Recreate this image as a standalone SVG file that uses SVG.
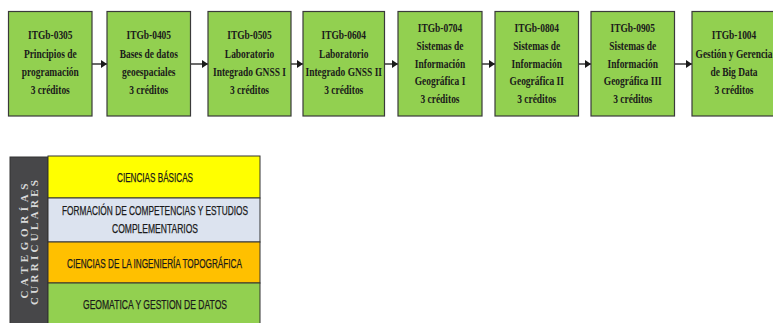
<svg xmlns="http://www.w3.org/2000/svg" width="773" height="323" viewBox="0 0 773 323">
<style>
.box{fill:#92d050;stroke:#3a3a3a;stroke-width:1.2}
.bt{font-family:"Liberation Serif","Times New Roman",serif;font-weight:bold;font-size:13.5px;fill:#1a1a1a;text-anchor:middle}
.con{stroke:#1a1a1a;stroke-width:1.3;fill:none}
.lt{font-family:"Liberation Sans",Arial,sans-serif;font-size:12px;fill:#1a1a1a;stroke:#1a1a1a;stroke-width:0.25;text-anchor:middle}
.row{stroke:#333333;stroke-width:1}
.vt{font-family:"Liberation Serif","Times New Roman",serif;font-weight:bold;font-size:11px;fill:#d9d9d9;text-anchor:middle}
</style>
<defs>
<marker id="ah" viewBox="0 0 6 8" refX="6" refY="4" markerWidth="6" markerHeight="8" markerUnits="userSpaceOnUse" orient="auto">
<path d="M0,0 L6,4 L0,8 Z" fill="#1a1a1a"/>
</marker>
</defs>
<rect width="773" height="323" fill="#ffffff"/>

<g id="connectors">
<line class="con" x1="92" y1="64" x2="107" y2="64" marker-end="url(#ah)"/>
<line class="con" x1="190.5" y1="64" x2="208" y2="64" marker-end="url(#ah)"/>
<line class="con" x1="291" y1="64" x2="303" y2="64" marker-end="url(#ah)"/>
<line class="con" x1="384.5" y1="64" x2="398" y2="64" marker-end="url(#ah)"/>
<line class="con" x1="482" y1="64" x2="495" y2="64" marker-end="url(#ah)"/>
<line class="con" x1="578.5" y1="64" x2="591" y2="64" marker-end="url(#ah)"/>
<line class="con" x1="674.5" y1="64" x2="692" y2="64" marker-end="url(#ah)"/>
</g>

<g id="n1">
<rect class="box" x="8.5" y="11.5" width="83.5" height="104.5"/>
<g transform="translate(50.25,0) scale(0.7,1)">
<text class="bt" x="0" y="39.5">ITGb-0305</text>
<text class="bt" x="0" y="57.7">Principios de</text>
<text class="bt" x="0" y="75.9">programación</text>
<text class="bt" x="0" y="94.1">3 créditos</text>
</g>
</g>
<g id="n2">
<rect class="box" x="107" y="11.5" width="83.5" height="104.5"/>
<g transform="translate(148.75,0) scale(0.7,1)">
<text class="bt" x="0" y="39.5">ITGb-0405</text>
<text class="bt" x="0" y="57.7">Bases de datos</text>
<text class="bt" x="0" y="75.9">geoespaciales</text>
<text class="bt" x="0" y="94.1">3 créditos</text>
</g>
</g>
<g id="n3">
<rect class="box" x="208" y="11.5" width="83" height="104.5"/>
<g transform="translate(249.5,0) scale(0.7,1)">
<text class="bt" x="0" y="39.5">ITGb-0505</text>
<text class="bt" x="0" y="57.7">Laboratorio</text>
<text class="bt" x="0" y="75.9">Integrado GNSS I</text>
<text class="bt" x="0" y="94.1">3 créditos</text>
</g>
</g>
<g id="n4">
<rect class="box" x="303" y="11.5" width="81.5" height="104.5"/>
<g transform="translate(343.75,0) scale(0.7,1)">
<text class="bt" x="0" y="39.5">ITGb-0604</text>
<text class="bt" x="0" y="57.7">Laboratorio</text>
<text class="bt" x="0" y="75.9">Integrado GNSS II</text>
<text class="bt" x="0" y="94.1">3 créditos</text>
</g>
</g>
<g id="n5">
<rect class="box" x="398" y="11.5" width="84" height="104.5"/>
<g transform="translate(440,0) scale(0.7,1)">
<text class="bt" x="0" y="32">ITGb-0704</text>
<text class="bt" x="0" y="49.8">Sistemas de</text>
<text class="bt" x="0" y="67.6">Información</text>
<text class="bt" x="0" y="85.4">Geográfica I</text>
<text class="bt" x="0" y="103.2">3 créditos</text>
</g>
</g>
<g id="n6">
<rect class="box" x="495" y="11.5" width="83.5" height="104.5"/>
<g transform="translate(536.75,0) scale(0.7,1)">
<text class="bt" x="0" y="32">ITGb-0804</text>
<text class="bt" x="0" y="49.8">Sistemas de</text>
<text class="bt" x="0" y="67.6">Información</text>
<text class="bt" x="0" y="85.4">Geográfica II</text>
<text class="bt" x="0" y="103.2">3 créditos</text>
</g>
</g>
<g id="n7">
<rect class="box" x="591" y="11.5" width="83.5" height="104.5"/>
<g transform="translate(632.75,0) scale(0.7,1)">
<text class="bt" x="0" y="32">ITGb-0905</text>
<text class="bt" x="0" y="49.8">Sistemas de</text>
<text class="bt" x="0" y="67.6">Información</text>
<text class="bt" x="0" y="85.4">Geográfica III</text>
<text class="bt" x="0" y="103.2">3 créditos</text>
</g>
</g>
<g id="n8">
<rect class="box" x="692" y="11.5" width="84" height="104.5"/>
<g transform="translate(734,0) scale(0.7,1)">
<text class="bt" x="0" y="39.5">ITGb-1004</text>
<text class="bt" x="0" y="57.7">Gestión y Gerencia</text>
<text class="bt" x="0" y="75.9">de Big Data</text>
<text class="bt" x="0" y="94.1">3 créditos</text>
</g>
</g>

<g id="legend">
<rect x="10" y="157" width="38" height="170" fill="#474749" stroke="#333333" stroke-width="1"/>
<text class="vt" transform="translate(27.5,241) rotate(-90)" textLength="115" lengthAdjust="spacing">CATEGORÍAS</text>
<text class="vt" transform="translate(37.5,242.5) rotate(-90)" textLength="125" lengthAdjust="spacing">CURRICULARES</text>
<rect class="row" x="48" y="156" width="212" height="42" fill="#ffff00"/>
<rect class="row" x="48" y="198" width="212" height="44" fill="#dce3ef"/>
<rect class="row" x="48" y="242" width="212" height="41" fill="#ffc000"/>
<rect class="row" x="48" y="283" width="212" height="44" fill="#92d050"/>
<text class="lt" x="155" y="182" textLength="76" lengthAdjust="spacingAndGlyphs">CIENCIAS BÁSICAS</text>
<text class="lt" x="155" y="215" textLength="186" lengthAdjust="spacingAndGlyphs">FORMACIÓN DE COMPETENCIAS Y ESTUDIOS</text>
<text class="lt" x="155" y="233" textLength="86" lengthAdjust="spacingAndGlyphs">COMPLEMENTARIOS</text>
<text class="lt" x="154.5" y="268" textLength="175" lengthAdjust="spacingAndGlyphs">CIENCIAS DE LA INGENIERÍA TOPOGRÁFICA</text>
<text class="lt" x="155" y="309" textLength="144" lengthAdjust="spacingAndGlyphs">GEOMATICA Y GESTION DE DATOS</text>
</g>
</svg>
